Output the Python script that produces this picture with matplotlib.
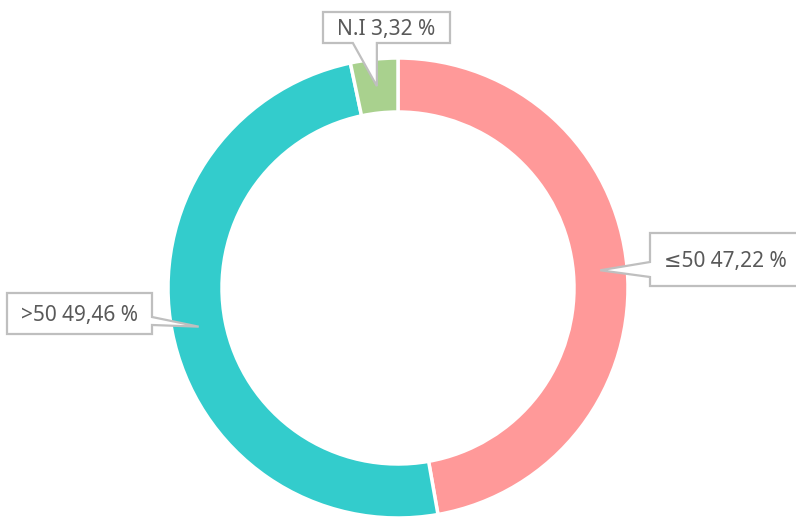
import numpy as np
import matplotlib.pyplot as plt
from matplotlib.patches import Polygon

plt.rcParams['font.family'] = ['Noto Sans', 'DejaVu Sans']

labels = ['≤50', '>50', 'N.I']
values = [47.22, 49.46, 3.32]
colors = ['#FF9999', '#33CCCC', '#A9D18E']

W, H = 796, 517
cx, cy = 398, H - 288
r_out, ring = 230, 54

# callout boxes (left, top, right, bottom in pixels from top-left) and side of pointer
boxes = [(650, 233, 800, 286, 'left'),
         (7, 293, 152, 334, 'right'),
         (323, 12, 450, 43, 'bottom')]

fig = plt.figure(figsize=(W / 100, H / 100), dpi=100)
ax = fig.add_axes([0, 0, 1, 1])

ax.pie(values, colors=colors, startangle=90, counterclock=False,
       radius=r_out, center=(cx, cy),
       wedgeprops=dict(width=ring, edgecolor='white', linewidth=2.5))

ax.set_xlim(0, W)
ax.set_ylim(0, H)
ax.set_aspect('equal')
ax.axis('off')

# pointer tips at the middle of each wedge, middle of the ring
ends = 90 - 360 * np.cumsum(values) / sum(values)
starts = np.concatenate([[90], ends[:-1]])
mids = np.radians((starts + ends) / 2)
r_mid = r_out - ring / 2

for lab, v, m, (l, t, rr, b, side) in zip(labels, values, mids, boxes):
    tx = cx + r_mid * np.cos(m)
    ty = cy + r_mid * np.sin(m)
    t_, b_ = H - t, H - b
    if side == 'left':
        pts = [(l, t_), (rr, t_), (rr, b_), (l, b_), (l, b_ + 9), (tx, ty), (l, b_ + 24)]
    elif side == 'right':
        pts = [(l, t_), (rr, t_), (rr, t_ - 24), (tx, ty), (rr, t_ - 32), (rr, b_), (l, b_)]
    else:
        pts = [(l, t_), (rr, t_), (rr, b_), (tx, b_), (tx, ty), (tx - 24, b_), (l, b_)]
    ax.add_patch(Polygon(pts, closed=True, facecolor='white', edgecolor='#BFBFBF',
                         linewidth=1.6, zorder=5))
    txt = lab + ' ' + f'{v:.2f}'.replace('.', ',') + ' %'
    ax.text((l + rr) / 2, (t_ + b_) / 2 - 2, txt, ha='center', va='center',
            fontsize=15, color='#595959', zorder=6)

fig.savefig('out.png', dpi=100)
